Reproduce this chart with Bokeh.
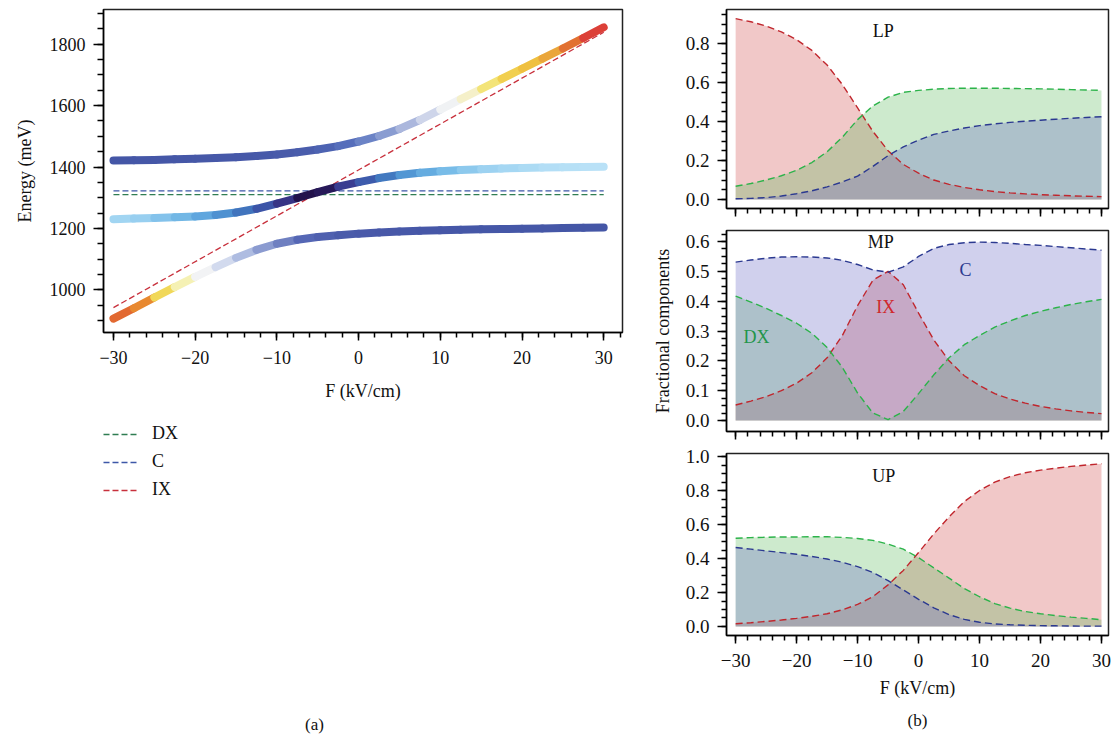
from bokeh.plotting import figure
from bokeh.models import (Range1d, Legend, LegendItem, Label, Title, LinearColorMapper,
                          FixedTicker, ColumnDataSource)
from bokeh.transform import transform
from bokeh.layouts import row, column
from bokeh.embed import file_html
from bokeh.resources import INLINE

# ---------------- data ----------------
F = [-30, -27.5, -25, -22.5, -20, -17.5, -15, -12.5, -10, -7.5, -5, -2.5, 0,
     2.5, 5, 7.5, 10, 12.5, 15, 17.5, 20, 22.5, 25, 27.5, 30]

# branch energies (meV)
LP_E = [906, 940, 975, 1009, 1042, 1074, 1104, 1130, 1150, 1163, 1172, 1178, 1183,
        1187, 1190, 1192, 1194, 1196, 1197, 1198, 1199, 1200, 1201, 1202, 1203]
MP_E = [1230, 1232, 1234, 1236, 1239, 1244, 1252, 1264, 1281, 1299, 1318, 1336, 1351,
        1364, 1374, 1381, 1386, 1390, 1393, 1395, 1397, 1398, 1399, 1400, 1401]
UP_E = [1421, 1422, 1423, 1425, 1427, 1429, 1432, 1436, 1441, 1448, 1457, 1468, 1483,
        1501, 1524, 1553, 1587, 1621, 1654, 1687, 1720, 1753, 1786, 1820, 1855]

# bare states
DX_LEVEL = 1310
C_LEVEL = 1322
IX_F = [-30, 30]
IX_E = [942, 1839]

# fractional components
LP_IX = [0.928, 0.912, 0.89, 0.86, 0.82, 0.765, 0.69, 0.59, 0.47, 0.35, 0.25, 0.18, 0.135,
         0.10, 0.078, 0.062, 0.05, 0.041, 0.034, 0.029, 0.025, 0.022, 0.019, 0.017, 0.015]
LP_DX = [0.068, 0.082, 0.10, 0.122, 0.15, 0.19, 0.245, 0.32, 0.41, 0.48, 0.525, 0.55, 0.56,
         0.566, 0.57, 0.571, 0.571, 0.571, 0.57, 0.569, 0.568, 0.566, 0.564, 0.562, 0.56]
LP_C = [0.004, 0.006, 0.01, 0.018, 0.03, 0.045, 0.065, 0.09, 0.12, 0.17, 0.225, 0.27, 0.305,
        0.334, 0.352, 0.367, 0.379, 0.388, 0.396, 0.402, 0.407, 0.412, 0.417, 0.421, 0.425]

MP_IX = [0.052, 0.065, 0.08, 0.10, 0.125, 0.16, 0.21, 0.285, 0.385, 0.47, 0.5, 0.455, 0.36,
         0.27, 0.20, 0.15, 0.117, 0.09, 0.072, 0.058, 0.047, 0.039, 0.032, 0.027, 0.023]
MP_DX = [0.417, 0.397, 0.376, 0.352, 0.326, 0.292, 0.245, 0.178, 0.092, 0.025, 0.003, 0.03, 0.09,
         0.153, 0.21, 0.254, 0.285, 0.313, 0.334, 0.352, 0.366, 0.378, 0.389, 0.398, 0.406]
MP_C = [0.531, 0.538, 0.544, 0.548, 0.549, 0.548, 0.545, 0.537, 0.523, 0.505, 0.497, 0.515, 0.55,
        0.577, 0.59, 0.596, 0.598, 0.597, 0.594, 0.59, 0.587, 0.583, 0.579, 0.575, 0.571]

UP_IX = [0.016, 0.022, 0.03, 0.038, 0.048, 0.06, 0.075, 0.098, 0.13, 0.175, 0.245, 0.33, 0.435,
         0.545, 0.645, 0.735, 0.80, 0.85, 0.882, 0.905, 0.92, 0.932, 0.942, 0.95, 0.958]
UP_DX = [0.519, 0.523, 0.525, 0.527, 0.527, 0.528, 0.528, 0.524, 0.518, 0.507, 0.485, 0.455, 0.405,
         0.345, 0.285, 0.223, 0.175, 0.135, 0.108, 0.088, 0.075, 0.064, 0.055, 0.048, 0.04]
UP_C = [0.465, 0.455, 0.445, 0.435, 0.425, 0.412, 0.397, 0.378, 0.352, 0.318, 0.27, 0.215, 0.16,
        0.11, 0.07, 0.042, 0.025, 0.015, 0.01, 0.007, 0.005, 0.004, 0.003, 0.002, 0.002]

X_TICKS = [-30, -20, -10, 0, 10, 20, 30]
X_LABELS = {-30: "\u221230", -20: "\u221220", -10: "\u221210", 0: "0", 10: "10", 20: "20", 30: "30"}

# ---------------- styles ----------------
FONT = "Liberation Serif"
FS = "18px"
INK = "#111111"
COL_DX_L, COL_C_L, COL_IX_L = "#2f7d52", "#3d57a8", "#c8303c"
LINE_IX, LINE_DX, LINE_C = "#c0262d", "#2cb34a", "#2b3990"
FILL_IX, FILL_DX, FILL_C = "#cf4a4a", "#5bb85b", "#6262c4"


def ramp(stops, low, high, n=96):
    """Build a palette from (value, colour) stops."""
    def rgb(h):
        return [int(h[i:i + 2], 16) for i in (1, 3, 5)]
    out = []
    for k in range(n):
        v = low + (high - low) * k / (n - 1)
        for (v0, c0), (v1, c1) in zip(stops[:-1], stops[1:]):
            if v <= v1 or (v1 == stops[-1][0]):
                t = 0 if v1 == v0 else min(max((v - v0) / (v1 - v0), 0), 1)
                a, b = rgb(c0), rgb(c1)
                out.append("#%02x%02x%02x" % tuple(round(a[i] + (b[i] - a[i]) * t) for i in range(3)))
                break
    return out


LP_STOPS = [(0.0, "#4456a6"), (0.15, "#4a5aaa"), (0.3, "#5568b5"), (0.47, "#7c8cc8"),
            (0.61, "#a0b0dc"), (0.73, "#d0d8ee"), (0.80, "#f6f6f6"), (0.855, "#f5f0a0"),
            (0.89, "#f0d040"), (0.91, "#e88a30"), (0.93, "#dd4a32")]
UP_STOPS = [(0.0, "#4456a6"), (0.2, "#4a5cab"), (0.35, "#5068b8"), (0.52, "#7088c8"),
            (0.69, "#a8b4dc"), (0.80, "#dde2f0"), (0.84, "#f8f8f6"), (0.87, "#f5f0c8"),
            (0.908, "#f3e060"), (0.93, "#efc040"), (0.945, "#e89838"), (0.952, "#e06030"),
            (0.96, "#dc4038")]
MP_STOPS = [(0.0, "#c4e7f9"), (0.03, "#b4dff6"), (0.06, "#a0d4f2"), (0.1, "#78bce8"),
            (0.15, "#5aa2dc"), (0.21, "#4585c8"), (0.28, "#3e66b4"), (0.35, "#3c50a4"),
            (0.42, "#3a3a8e"), (0.47, "#2c1e66"), (0.5, "#1c0c3c")]

lp_mapper = LinearColorMapper(palette=ramp(LP_STOPS, 0.0, 0.93), low=0.0, high=0.93)
up_mapper = LinearColorMapper(palette=ramp(UP_STOPS, 0.0, 0.96), low=0.0, high=0.96)
mp_mapper = LinearColorMapper(palette=ramp(MP_STOPS, 0.0, 0.5), low=0.0, high=0.5)


def style_axes(p, size=FS):
    for ax in (p.xaxis, p.yaxis):
        ax.axis_line_width = 1.5
        ax.major_tick_line_width = 1.5
        ax.minor_tick_line_width = 1.5
        ax.major_tick_in = 0
        ax.minor_tick_in = 0
        ax.major_label_text_font = FONT
        ax.major_label_text_font_size = size
        ax.major_label_text_color = INK
        ax.axis_label_text_font = FONT
        ax.axis_label_text_font_size = size
        ax.axis_label_text_font_style = "normal"
        ax.axis_label_text_color = INK
    p.grid.visible = False
    p.outline_line_color = "#222222"
    p.outline_line_width = 1.5


# ---------------- panel (a) ----------------
pa = figure(width=648, height=412, x_range=Range1d(-31.22, 32.3), y_range=Range1d(861, 1913),
            output_backend="svg", toolbar_location=None,
            min_border_left=103, min_border_right=26, min_border_top=9, min_border_bottom=80)
style_axes(pa)
pa.xaxis.ticker = FixedTicker(ticks=X_TICKS, minor_ticks=list(range(-30, 33, 2)))
pa.xaxis.major_label_overrides = X_LABELS
pa.yaxis.ticker = FixedTicker(ticks=[1000, 1200, 1400, 1600, 1800],
                              minor_ticks=list(range(900, 1901, 50)))
pa.xaxis.major_tick_out = 8
pa.xaxis.minor_tick_out = 5
pa.yaxis.major_tick_out = 10
pa.yaxis.minor_tick_out = 6
pa.xaxis.major_label_standoff = 10
pa.yaxis.major_label_standoff = 8
pa.yaxis.axis_label = "Energy (meV)"
pa.yaxis.axis_label_standoff = 12
pa.xaxis.axis_label = "F (kV/cm)"
pa.xaxis.axis_label_standoff = 14

pa.line(IX_F, [DX_LEVEL, DX_LEVEL], line_color=COL_DX_L, line_width=1.3, line_dash="6 3")
pa.line(IX_F, [C_LEVEL, C_LEVEL], line_color=COL_C_L, line_width=1.3, line_dash="6 3")
pa.line(IX_F, IX_E, line_color=COL_IX_L, line_width=1.3, line_dash="6 3")


def branch(p, energies, ix, mapper):
    src = ColumnDataSource(dict(
        x0=F[:-1], x1=F[1:], y0=energies[:-1], y1=energies[1:],
        w=[(a + b) / 2 for a, b in zip(ix[:-1], ix[1:])]))
    p.segment("x0", "y0", "x1", "y1", source=src, line_width=8, line_cap="round",
              line_color=transform("w", mapper))


branch(pa, LP_E, LP_IX, lp_mapper)
branch(pa, UP_E, UP_IX, up_mapper)
branch(pa, MP_E, MP_IX, mp_mapper)

# legend + (a) caption (legend renderers lie outside this figure's ranges)
pl = figure(width=648, height=333, x_range=Range1d(0, 1), y_range=Range1d(0, 1),
            output_backend="svg", toolbar_location=None,
            min_border_left=103, min_border_right=26, min_border_top=11, min_border_bottom=0)
pl.axis.visible = False
pl.grid.visible = False
pl.outline_line_color = None
l_dx = pl.line(IX_F, [DX_LEVEL, DX_LEVEL], line_color=COL_DX_L, line_width=1.5, line_dash="6 3")
l_c = pl.line(IX_F, [C_LEVEL, C_LEVEL], line_color=COL_C_L, line_width=1.5, line_dash="6 3")
l_ix = pl.line(IX_F, IX_E, line_color=COL_IX_L, line_width=1.5, line_dash="6 3")
leg = Legend(items=[LegendItem(label="DX", renderers=[l_dx]),
                    LegendItem(label="C", renderers=[l_c]),
                    LegendItem(label="IX", renderers=[l_ix])],
             location="top_left", margin=0, padding=0, spacing=7,
             glyph_width=35, glyph_height=20, label_height=20, label_standoff=14,
             label_text_font=FONT, label_text_font_size=FS, label_text_color=INK,
             border_line_color=None, background_fill_alpha=0)
pl.add_layout(leg)
pl.add_layout(Label(x=0.4066, y=0.0652, text="(a)", text_align="center", text_baseline="middle",
                    text_font=FONT, text_font_size="17px", text_color=INK))


# ---------------- panel (b) ----------------
def frac_panel(height, yr, yticks, yminor, top, bottom, comps, show_x):
    p = figure(width=463, height=height, x_range=Range1d(-31.5, 31.15), y_range=Range1d(*yr),
               output_backend="svg", toolbar_location=None,
               min_border_left=78, min_border_right=3, min_border_top=top,
               min_border_bottom=bottom)
    style_axes(p)
    p.yaxis.major_label_text_font_size = "19px"
    p.xaxis.major_label_text_font_size = "19px"
    p.xaxis.ticker = FixedTicker(ticks=X_TICKS, minor_ticks=list(range(-30, 31, 2)))
    p.xaxis.major_label_overrides = X_LABELS if show_x else {t: "" for t in X_TICKS}
    p.yaxis.ticker = FixedTicker(ticks=yticks, minor_ticks=yminor)
    p.yaxis.major_label_overrides = {t: f"{t:.1f}" for t in yticks}
    p.xaxis.major_tick_out = 8
    p.xaxis.minor_tick_out = 5
    p.yaxis.major_tick_out = 9
    p.yaxis.minor_tick_out = 5
    p.yaxis.major_label_standoff = 8
    p.xaxis.major_label_standoff = 10 if show_x else 0
    for vals, fc in comps:
        p.varea(x=F, y1=[0] * len(F), y2=vals, fill_color=fc, fill_alpha=0.3)
    fcols = {FILL_IX: LINE_IX, FILL_DX: LINE_DX, FILL_C: LINE_C}
    for vals, fc in comps:
        p.line(F, vals, line_color=fcols[fc], line_width=1.4, line_dash="7 4")
    return p


LP_T = [0, 0.2, 0.4, 0.6, 0.8]
plp = frac_panel(226, (-0.046, 0.975), LP_T, [i * 0.05 for i in range(0, 20)], 9, 18,
                 [(LP_IX, FILL_IX), (LP_DX, FILL_DX), (LP_C, FILL_C)], False)
plp.add_layout(Label(x=-5.8, y=0.865, text="LP", text_align="center", text_baseline="middle",
                     text_font=FONT, text_font_size=FS, text_color=INK))

MP_T = [0, 0.1, 0.2, 0.3, 0.4, 0.5, 0.6]
pmp = frac_panel(217, (-0.037, 0.637), MP_T, [i * 0.025 for i in range(0, 26)], 4, 12,
                 [(MP_IX, FILL_IX), (MP_DX, FILL_DX), (MP_C, FILL_C)], False)
pmp.yaxis.axis_label = "Fractional components"
pmp.yaxis.axis_label_standoff = 10
for txt, x, y, c in [("MP", -6.2, 0.6, INK), ("C", 7.7, 0.505, "#2b3990"),
                     ("IX", -5.4, 0.38, "#d0282c"), ("DX", -26.6, 0.28, "#23954a")]:
    pmp.add_layout(Label(x=x, y=y, text=txt, text_align="center", text_baseline="middle",
                         text_font=FONT, text_font_size=FS, text_color=c))

UP_T = [0, 0.2, 0.4, 0.6, 0.8, 1.0]
pup = frac_panel(302, (-0.053, 1.018), UP_T, [i * 0.05 for i in range(0, 21)], 10, 110,
                 [(UP_IX, FILL_IX), (UP_DX, FILL_DX), (UP_C, FILL_C)], True)
pup.add_layout(Label(x=-5.7, y=0.885, text="UP", text_align="center", text_baseline="middle",
                     text_font=FONT, text_font_size=FS, text_color=INK))
pup.xaxis.axis_label = "F (kV/cm)"
pup.xaxis.axis_label_standoff = 8
pup.add_layout(Title(text="(b)", align="center", text_font=FONT, text_font_size="17px",
                     text_font_style="normal", text_color=INK, standoff=16), "below")

layout = row(column(pa, pl, spacing=0), column(plp, pmp, pup, spacing=0), spacing=0)
open("out.html", "w").write(file_html(layout, INLINE))
